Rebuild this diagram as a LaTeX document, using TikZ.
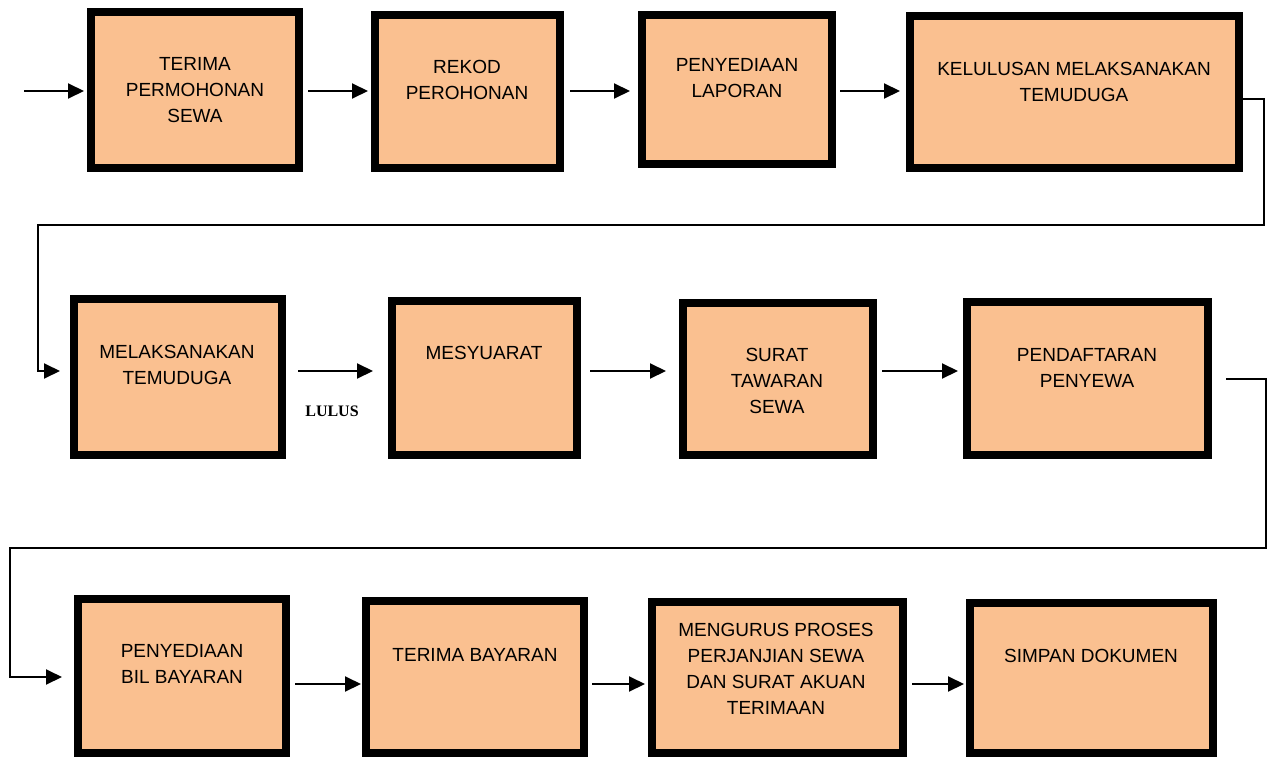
\documentclass[tikz,border=0pt]{standalone}
\usepackage{fontspec}
\setmainfont{Liberation Sans}
\newfontfamily\lulusfont{Liberation Serif}
\usetikzlibrary{arrows.meta}
\definecolor{peach}{HTML}{FAC090}
\begin{document}
\begin{tikzpicture}[x=1pt,y=-1pt,
  box/.style={draw=black,line width=8pt,fill=peach,inner sep=0pt},
  lbl/.style={align=center,inner sep=0pt,font=\fontsize{19}{26}\selectfont},
  arr/.style={line width=2pt,-{Triangle[length=16pt,width=15pt]}},
  lulus/.style={inner sep=0pt,font=\lulusfont\bfseries\fontsize{16}{18}\selectfont}]
\useasboundingbox[fill=white] (0,0) rectangle (1268,757);
% boxes
\node[box,minimum width=208pt,minimum height=156pt] (B1) at (195,90) {};
\node[box,minimum width=185pt,minimum height=153pt] (B2) at (467.5,91.5) {};
\node[box,minimum width=190pt,minimum height=149pt] (B3) at (737,89.5) {};
\node[box,minimum width=329pt,minimum height=152pt] (B4) at (1074.5,92) {};
\node[box,minimum width=208pt,minimum height=156pt] (B5) at (178,377) {};
\node[box,minimum width=185pt,minimum height=154pt] (B6) at (484.5,378) {};
\node[box,minimum width=190pt,minimum height=152pt] (B7) at (778,379) {};
\node[box,minimum width=241pt,minimum height=153pt] (B8) at (1087.5,378.5) {};
\node[box,minimum width=208pt,minimum height=154pt] (B9) at (182,676) {};
\node[box,minimum width=218pt,minimum height=152pt] (B10) at (475,677) {};
\node[box,minimum width=251pt,minimum height=151pt] (B11) at (777.5,677.5) {};
\node[box,minimum width=243pt,minimum height=150pt] (B12) at (1091.5,678) {};
% texts
\node[lbl] (t1) at (195,90) {TERIMA\\PERMOHONAN\\SEWA};
\node[lbl] (t2) at (467,80) {REKOD\\PEROHONAN};
\node[lbl] (t3) at (737,78) {PENYEDIAAN\\LAPORAN};
\node[lbl] (t4) at (1074,82) {KELULUSAN MELAKSANAKAN\\TEMUDUGA};
\node[lbl] (t5) at (177,364.5) {MELAKSANAKAN\\TEMUDUGA};
\node[lbl] (t6) at (484,353) {MESYUARAT};
\node[lbl] (t7) at (777,381) {SURAT\\TAWARAN\\SEWA};
\node[lbl] (t8) at (1087,368) {PENDAFTARAN\\PENYEWA};
\node[lbl] (t9) at (182,664) {PENYEDIAAN\\BIL BAYARAN};
\node[lbl] (t10) at (475,655) {TERIMA BAYARAN};
\node[lbl] (t11) at (776,669) {MENGURUS PROSES\\PERJANJIAN SEWA\\DAN SURAT AKUAN\\TERIMAAN};
\node[lbl] (t12) at (1091,656) {SIMPAN DOKUMEN};
\node[lulus] (lulus) at (332,411) {LULUS};
% row reference coordinates
\coordinate (r1) at (0,91);
\coordinate (r2) at (0,371);
\coordinate (r3) at (0,684);
\coordinate (s0) at (24,91);
% row 1
\draw[arr] (s0) -- ([xshift=-3pt]B1.west |- r1);
\draw[arr] ([xshift=5pt]B1.east |- r1) -- ([xshift=-3pt]B2.west |- r1);
\draw[arr] ([xshift=6pt]B2.east |- r1) -- ([xshift=-8pt]B3.west |- r1);
\draw[arr] ([xshift=4pt]B3.east |- r1) -- ([xshift=-6pt]B4.west |- r1);
% loop 1
\coordinate (k1) at (1264,99);
\coordinate (k2) at (1264,225);
\coordinate (k3) at (38,225);
\coordinate (k4) at (38,371);
\draw[arr] (B4.east |- k1) -- (k1) -- (k2) -- (k3) -- (k4) -- ([xshift=-10pt]B5.west |- k4);
% row 2
\draw[arr] ([xshift=12pt]B5.east |- r2) -- ([xshift=-15pt]B6.west |- r2);
\draw[arr] ([xshift=9pt]B6.east |- r2) -- ([xshift=-13pt]B7.west |- r2);
\draw[arr] ([xshift=5pt]B7.east |- r2) -- ([xshift=-5pt]B8.west |- r2);
% loop 2
\coordinate (m0) at (1226,379);
\coordinate (m1) at (1266,379);
\coordinate (m2) at (1266,548);
\coordinate (m3) at (10,548);
\coordinate (m4) at (10,677);
\draw[arr] (m0) -- (m1) -- (m2) -- (m3) -- (m4) -- ([xshift=-12pt]B9.west |- m4);
% row 3
\draw[arr] ([xshift=5pt]B9.east |- r3) -- ([xshift=-1pt]B10.west |- r3);
\draw[arr] ([xshift=4pt]B10.east |- r3) -- ([xshift=-3pt]B11.west |- r3);
\draw[arr] ([xshift=5pt]B11.east |- r3) -- ([xshift=-2pt]B12.west |- r3);
\end{tikzpicture}
\end{document}
